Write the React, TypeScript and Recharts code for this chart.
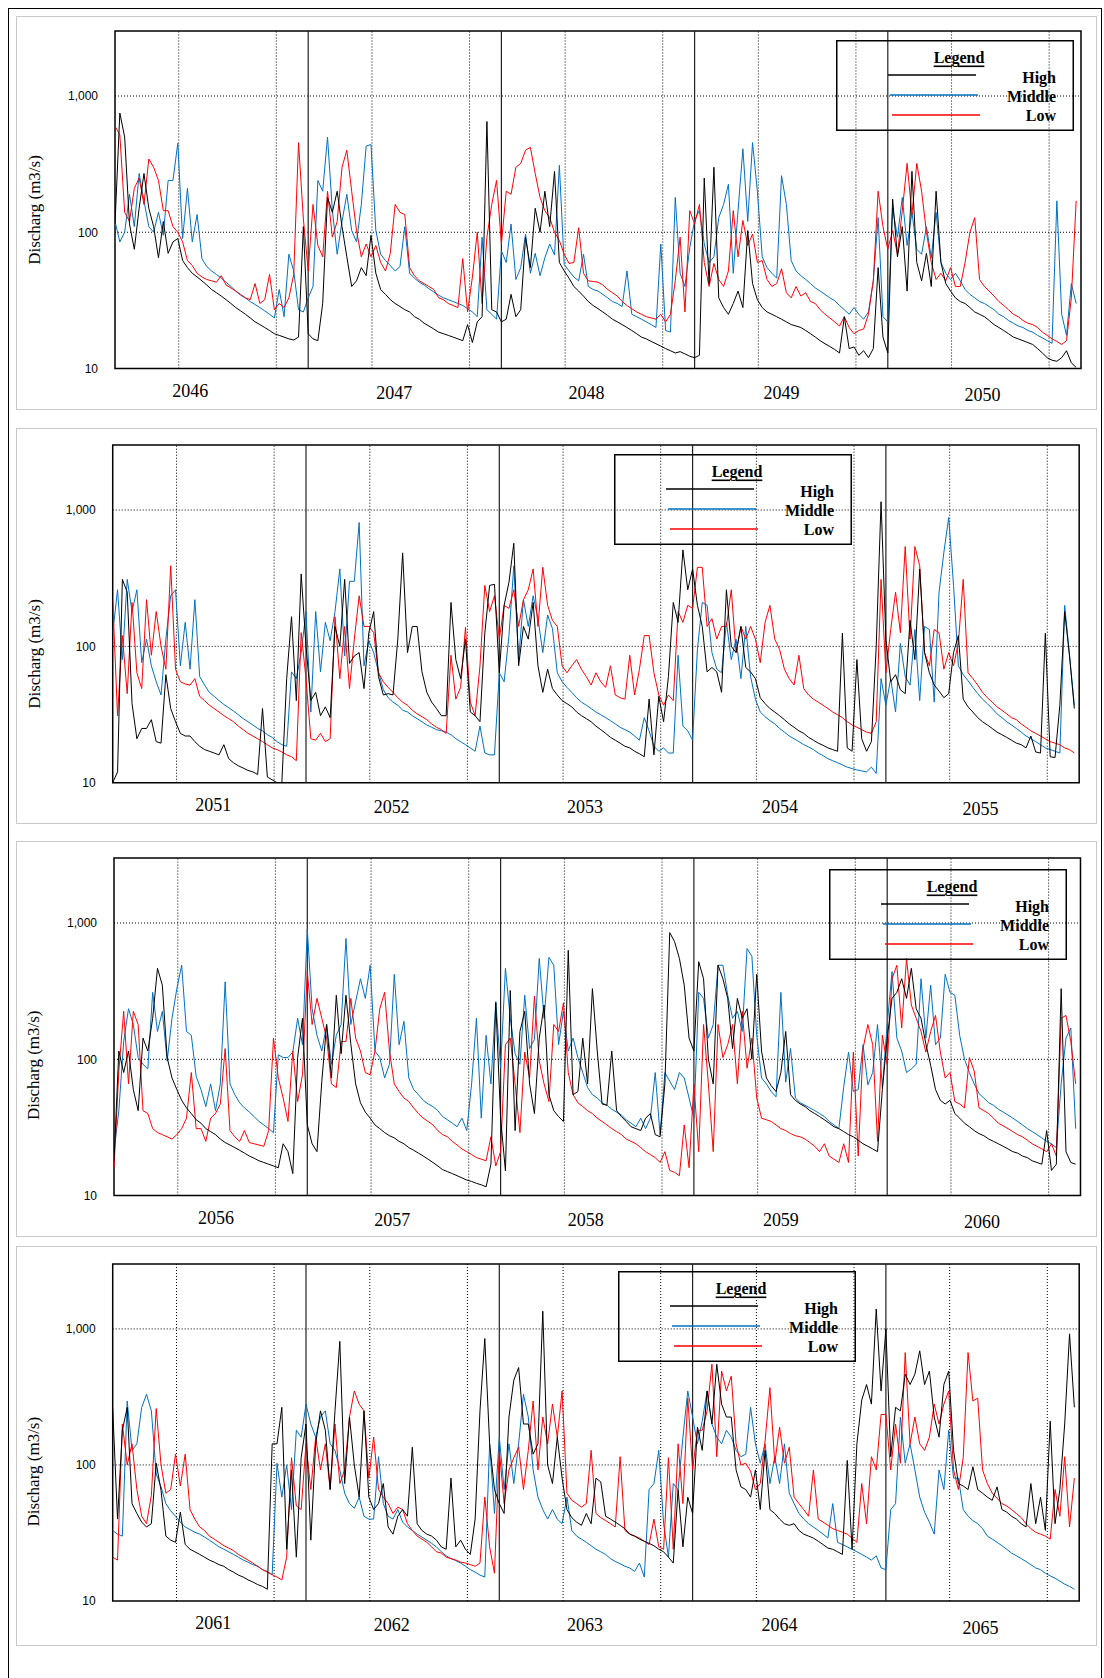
import React from 'react';
import { LineChart, Line, XAxis, YAxis, ReferenceLine, ReferenceArea } from 'recharts';

const SAMPLES_PER_YEAR = 40;
const YEAR_COUNT = 5;

const p1Years = ['2046', '2047', '2048', '2049', '2050'];
const p2Years = ['2051', '2052', '2053', '2054', '2055'];
const p3Years = ['2056', '2057', '2058', '2059', '2060'];
const p4Years = ['2061', '2062', '2063', '2064', '2065'];

const p1High = [
  115, 750, 500, 115, 75, 150, 270, 150, 110, 65, 120, 70, 85, 90, 62, 55, 50, 47, 44, 41,
  38, 36, 34, 32, 30, 28, 26.5, 25, 23.5, 22, 21, 20, 19, 18, 17.5, 17, 16.5, 16.2, 17, 110,
  18, 16.5, 16, 30, 180, 140, 200, 110, 66, 40, 44, 55, 48, 95, 50, 38, 35, 32, 30, 28.5,
  27, 26, 24, 23, 21.5, 20.5, 19.5, 18.5, 18, 17.5, 17, 16.5, 16, 21, 15.5, 22, 24, 650, 27, 26,
  22, 23, 35, 24, 27, 92, 55, 150, 100, 200, 110, 280, 60, 52, 46, 40, 37, 34, 31, 29,
  27.5, 26, 24.5, 23, 22, 21, 20, 19, 18, 17, 16.5, 15.8, 15.2, 14.6, 14, 13.5, 13, 13.3, 12.8, 12.3,
  12, 12.5, 250, 42, 300, 33, 28, 25, 30, 37, 28, 103, 42, 32, 28, 26, 25, 24, 23, 22,
  21, 20.5, 20, 19, 18, 17, 16, 15.2, 14.5, 13.8, 13, 24, 14, 14.4, 12.5, 13.5, 12, 14, 55, 17,
  13, 175, 66, 110, 37, 280, 60, 44, 70, 40, 200, 60, 42, 37, 33, 31, 30, 28, 26, 25,
  24, 22.5, 21, 20, 19, 18, 17, 16.5, 16, 15.5, 15, 14, 13, 12, 11.5, 11.3, 12, 13.5, 11, 10.2,
];
const p1Mid = [
  120, 85, 100, 190, 110, 270, 170, 110, 100, 140, 95, 240, 240, 450, 90, 210, 85, 135, 64, 56,
  52, 49, 46, 43, 40, 37, 34.5, 33, 31, 29.5, 28, 26.5, 25, 23.5, 38, 24, 69, 52, 27, 26,
  33, 40, 240, 200, 500, 145, 69, 120, 190, 103, 85, 160, 430, 440, 103, 69, 62, 57, 52, 56,
  110, 50, 46, 43, 41, 38.5, 36.5, 34.5, 33, 32, 31, 30, 29, 27.5, 26, 24, 92, 27, 25, 23,
  73, 60, 115, 45, 55, 97, 50, 70, 48, 65, 82, 68, 310, 58, 52, 47, 44, 69, 40, 38,
  37, 35, 33, 31, 30, 28.5, 52, 25, 24, 23, 22, 21, 20, 82, 19, 18.5, 180, 50, 40, 77,
  122, 145, 82, 60, 66, 128, 160, 225, 50, 145, 410, 120, 455, 200, 66, 55, 50, 46, 260, 160,
  62, 52, 48, 45, 42, 39, 37, 35, 33, 31.5, 29, 27, 25, 28, 25, 23, 26, 44, 128, 24,
  22, 150, 92, 180, 80, 140, 75, 69, 110, 65, 140, 60, 50, 45, 50, 44, 38, 35, 33, 31,
  30, 28.5, 27, 25, 24, 22.5, 21.5, 20.5, 20, 19, 18.5, 17.5, 16.8, 16, 15.3, 170, 25, 17.5, 42, 30,
];
const p1Low = [
  600, 520, 140, 120, 210, 250, 160, 345, 300, 240, 144, 144, 110, 100, 85, 62, 57, 50, 47, 45,
  44, 43, 48, 41, 39, 37, 35, 33, 32, 42, 30, 32, 49, 27, 30, 28, 33, 49, 455, 125,
  52, 160, 80, 66, 200, 92, 120, 300, 400, 200, 103, 66, 82, 66, 80, 60, 52, 70, 160, 140,
  135, 55, 48, 44, 42, 40, 38, 33, 32, 30, 29, 28, 64, 26, 47, 100, 30, 92, 160, 240,
  82, 200, 190, 300, 320, 400, 420, 270, 180, 144, 128, 100, 87, 69, 59, 60, 108, 50, 44, 43.5,
  43, 41, 38, 36, 34, 31, 29, 27.5, 26, 25, 24, 23.5, 23, 25, 22, 25, 44, 92, 26, 144,
  115, 160, 60, 40, 59, 45, 40, 52, 144, 66, 122, 80, 97, 60, 62, 45, 40, 42, 54, 36,
  33, 40, 34, 36, 31, 30, 27, 25, 23.5, 22, 20.5, 24, 20, 18, 19, 19.5, 25, 44, 200, 110,
  75, 103, 69, 144, 320, 135, 320, 200, 100, 60, 45, 50, 44, 55, 40, 40, 60, 100, 128, 45,
  40, 37, 34, 31, 29, 27, 25, 24, 22.5, 21.5, 21, 20, 18.5, 17.5, 16.5, 15.8, 15, 16, 33, 170,
];

const p2High = [
  10, 12, 310, 250, 38, 21, 25, 25, 29, 20, 19.5, 62, 35, 28, 23, 22, 22, 20, 18.5, 17.5,
  17, 16.5, 16, 19, 15, 14, 13.3, 12.8, 12.3, 12, 11.5, 35, 11, 10.5, 10, 10, 58, 165, 40, 340,
  100, 40, 46, 31, 36, 30, 140, 100, 310, 75, 85, 90, 49, 126, 180, 60, 44, 45, 44, 113,
  485, 90, 140, 140, 65, 46, 39, 35, 31, 31, 210, 80, 58, 113, 33, 31, 28, 125, 280, 285,
  64, 200, 295, 570, 72, 140, 113, 210, 72, 46, 68, 49, 44, 40, 38, 36, 33, 31, 29.5, 28,
  26, 24.5, 23, 21.5, 20.5, 19.5, 18.5, 18, 17, 16.3, 15.5, 41, 16, 43, 28, 60, 210, 150, 510, 260,
  370, 200, 140, 65, 70, 65, 46, 260, 100, 90, 140, 70, 65, 58, 42, 38, 35, 33, 31, 29,
  27, 25.5, 24, 23, 21.5, 20.5, 19.5, 18.8, 18, 17.5, 17, 125, 18, 17, 80, 21, 17, 20, 100, 1150,
  113, 55, 62, 48, 45, 155, 80, 370, 90, 64, 52, 47, 42, 45, 90, 120, 41, 36, 33, 30,
  28, 26.5, 25, 23.5, 22.5, 21.5, 20.5, 19.5, 19, 18, 22, 16.8, 16.5, 125, 15.5, 15.3, 37, 180, 85, 35,
];
const p2Mid = [
  125, 260, 80, 310, 180, 260, 76, 113, 72, 55, 44, 113, 235, 260, 72, 150, 68, 220, 60, 52,
  46, 43, 40, 37.5, 35.5, 33.5, 31.5, 29.5, 28, 26.5, 25, 24, 22.5, 21.5, 20, 19, 18.5, 65, 58, 90,
  180, 33, 180, 65, 150, 110, 180, 370, 85, 300, 300, 810, 72, 110, 90, 65, 48, 42, 39, 37,
  34, 33, 31, 29.5, 28, 26.5, 25.5, 24.5, 24, 23.5, 22.5, 21, 20, 19, 18, 17, 26, 16.5, 16, 16,
  64, 55, 120, 390, 80, 220, 140, 235, 160, 90, 170, 135, 64, 55, 50, 46, 42, 39, 37, 35,
  33, 31.5, 30, 28.5, 27, 25.5, 24.5, 23.5, 22, 20.5, 30, 24, 18.5, 17, 18, 16.5, 16.5, 86, 26, 24,
  20.5, 95, 210, 200, 90, 68, 64, 150, 80, 113, 58, 140, 60, 41, 33, 30.5, 28.5, 27, 25, 23.5,
  22, 21, 20, 19, 18.3, 17.5, 16.5, 15.8, 15, 14.5, 14, 13.5, 13, 12.7, 12.4, 12.2, 12, 13, 11.7, 58,
  37, 58, 33, 105, 60, 52, 133, 40, 140, 133, 39, 250, 490, 880, 280, 72, 62, 56, 50, 45,
  41, 38, 35, 32, 30, 28, 26.5, 25, 23.5, 22, 21, 20, 19, 18, 17.5, 17, 16.5, 200, 86, 37,
];
const p2Low = [
  220, 31, 120, 45, 210, 64, 49, 220, 86, 180, 100, 68, 390, 68, 55, 53, 52, 58, 43, 40,
  37, 35, 33, 31, 29.5, 28, 26, 24.5, 23, 22, 21, 20, 19, 18, 17.5, 16.8, 16, 15.5, 14.5, 126,
  58, 21, 20.5, 23, 20, 21, 165, 58, 140, 49, 113, 235, 140, 140, 126, 64, 55, 50, 46, 42,
  39, 37, 34, 32, 30.5, 29, 27, 25.5, 24.5, 23, 86, 41, 50, 138, 39, 31, 72, 280, 180, 235,
  113, 200, 190, 260, 140, 220, 260, 370, 140, 380, 200, 155, 140, 72, 64, 72, 80, 68, 60, 52,
  64, 55, 50, 72, 44, 42, 41, 86, 44, 68, 120, 120, 64, 44, 37, 44, 40, 180, 150, 200,
  190, 380, 380, 140, 160, 113, 140, 140, 260, 90, 140, 113, 140, 113, 76, 150, 200, 113, 95, 68,
  58, 52, 86, 49, 44, 41, 39, 37, 35, 33, 31.5, 30, 28, 26.5, 25.5, 24.5, 23.5, 23, 28, 310,
  64, 133, 250, 126, 540, 113, 540, 390, 90, 72, 133, 126, 68, 90, 72, 106, 310, 64, 58, 52,
  46, 42, 39, 36, 34, 32, 30, 29, 27, 25.5, 24, 23, 22, 21, 20, 19.5, 19, 18, 17.5, 16.5,
];

const p3High = [
  18, 115, 80, 115, 60, 42, 143, 115, 200, 465, 350, 103, 73, 60, 50, 44, 40, 36, 34, 31,
  29.5, 28, 26, 24.5, 23.5, 22.5, 21.5, 20.5, 19.5, 18.8, 18, 17.5, 17, 16.5, 16, 24, 21, 14.5, 103, 200,
  33, 24, 21, 69, 180, 73, 295, 110, 295, 130, 66, 48, 41, 37, 33, 31, 29, 27.5, 26.5, 25,
  24, 22.5, 21.5, 20.5, 19.5, 18.5, 17.5, 16.5, 15.5, 15, 14.5, 14, 13.5, 13, 12.7, 12.3, 12, 11.6, 17, 260,
  37, 15.2, 320, 30, 160, 225, 66, 40, 143, 250, 55, 42, 38, 35, 630, 55, 58, 143, 66, 330,
  115, 47, 46, 115, 42, 38, 35, 32, 31, 30, 37, 40, 28, 27, 66, 850, 730, 550, 350, 143,
  115, 520, 390, 100, 66, 490, 390, 280, 120, 280, 200, 235, 100, 420, 115, 73, 64, 58, 80, 160,
  55, 50, 47, 45, 42, 40, 38, 36, 34, 32, 31, 29.5, 28, 27, 25.5, 24, 23, 22, 21, 60,
  143, 280, 310, 390, 280, 465, 235, 200, 130, 90, 60, 50, 47, 50, 40, 37, 34, 32, 30, 28.5,
  27.5, 26, 25, 24, 23, 22, 21, 20.5, 19.5, 19, 18, 17.5, 17, 30, 15.3, 17, 330, 21, 17.5, 17,
];
const p3Mid = [
  21, 42, 135, 235, 180, 103, 92, 85, 310, 160, 225, 97, 200, 330, 490, 160, 150, 75, 60, 45,
  66, 42, 66, 370, 66, 55, 48, 44, 41, 38, 35, 33, 31, 29, 108, 103, 103, 113, 200, 128,
  900, 235, 150, 115, 180, 92, 150, 180, 770, 180, 265, 390, 280, 490, 115, 103, 73, 92, 420, 128,
  190, 73, 60, 55, 50, 47, 45, 42, 38, 36, 34, 32, 37, 30, 66, 200, 37, 150, 66, 265,
  86, 465, 200, 110, 92, 295, 120, 140, 550, 200, 560, 490, 128, 225, 115, 143, 103, 80, 62, 55,
  52, 48, 46, 43, 41, 39, 36, 34, 32, 37, 31, 37, 80, 28, 80, 69, 60, 80, 73, 52,
  37, 310, 280, 143, 180, 490, 490, 295, 200, 225, 160, 650, 570, 150, 73, 66, 58, 53, 310, 68,
  120, 52, 48, 46, 44, 42, 40, 38, 35, 33, 31, 63, 113, 58, 60, 128, 65, 80, 180, 62,
  180, 440, 143, 115, 80, 85, 92, 390, 143, 350, 128, 143, 420, 310, 295, 150, 100, 80, 66, 56,
  52, 48, 46, 43, 41, 39, 37, 35, 33, 31, 29.5, 28, 26.5, 25, 24, 22.5, 66, 143, 170, 31,
];
const p3Low = [
  16, 82, 225, 66, 225, 180, 42, 40, 31, 29, 28, 27, 26, 28, 31, 37, 80, 31, 31, 25,
  37, 40, 47, 120, 30, 27, 25, 30, 24.5, 24, 23.5, 23, 30, 143, 73, 52, 35, 115, 49, 77,
  440, 180, 280, 200, 143, 66, 62, 135, 135, 280, 143, 115, 80, 77, 115, 235, 310, 115, 66, 58,
  52, 49, 44, 40, 37, 35, 33, 30, 28, 27, 25, 23.5, 22, 21, 20, 19, 18.5, 18, 27, 16.5,
  21, 128, 143, 66, 29, 113, 73, 290, 97, 66, 49, 180, 160, 260, 80, 55, 48, 45, 42, 40,
  37, 35, 33, 31, 29.5, 28, 26, 25, 24, 22.5, 21, 20, 19, 17.5, 21, 15.3, 14.8, 14, 33, 16,
  66, 21, 180, 66, 21, 180, 103, 128, 180, 66, 225, 86, 143, 52, 37, 36, 35, 33, 31, 30,
  28.5, 27.5, 27, 26, 24.5, 23, 21, 24, 19.5, 18.5, 17.5, 24, 17.5, 113, 19.5, 120, 180, 128, 25, 150,
  92, 390, 490, 170, 550, 250, 200, 160, 113, 160, 210, 113, 73, 80, 49, 47, 44, 103, 82, 44,
  42, 40, 37, 34, 32.5, 31, 29.5, 28, 27, 25.5, 24, 23, 22, 21, 24, 19.5, 200, 210, 135, 66,
];

const p4High = [
  260, 40, 180, 265, 52, 44, 38, 35, 37, 103, 65, 30, 28, 27, 45, 26, 24, 23, 22, 21,
  20, 19.3, 18.5, 18, 17, 16.3, 15.5, 15, 14.3, 13.8, 13.2, 12.8, 12.2, 143, 143, 265, 24, 92, 21, 113,
  200, 28, 143, 250, 180, 66, 250, 810, 73, 225, 100, 58, 250, 58, 47, 52, 73, 35, 31, 42,
  47, 42, 135, 37, 33, 31, 30, 28, 25, 24, 80, 25, 28, 24, 22, 40, 250, 850, 143, 66,
  52, 44, 225, 420, 520, 200, 200, 120, 143, 1350, 100, 73, 160, 80, 47, 41, 38, 36, 44, 37,
  80, 75, 42, 40, 38, 36, 34, 31, 30, 28.5, 27.5, 26.5, 25.5, 24, 23, 21, 19, 66, 25, 58,
  44, 190, 128, 350, 200, 550, 280, 225, 225, 92, 69, 66, 58, 92, 47, 128, 47, 44, 40, 37,
  36, 37, 33, 31, 30, 29, 27.5, 26, 24.5, 24, 23, 22, 108, 24, 143, 300, 390, 280, 1400, 350,
  1000, 115, 265, 250, 465, 390, 465, 690, 390, 490, 225, 160, 390, 490, 128, 73, 70, 66, 97, 66,
  62, 58, 55, 69, 47, 45, 42, 40, 37, 35, 73, 37, 58, 33, 210, 37, 66, 200, 920, 265,
];
const p4Mid = [
  33, 31, 30, 295, 128, 143, 265, 330, 250, 86, 69, 52, 46, 42, 38, 35, 33.5, 32, 31, 29.5,
  28, 26.5, 25, 24, 23, 22, 21, 20, 19.3, 18.5, 18, 17, 16.5, 15.6, 103, 58, 100, 47, 180, 160,
  280, 200, 160, 225, 250, 143, 128, 92, 62, 52, 48, 58, 42, 40, 40, 115, 52, 42, 40, 47,
  38, 35, 33, 31, 29.5, 28, 26.5, 25, 23, 21.5, 20.5, 19.8, 19, 18, 17, 16.3, 15.5, 15, 143, 44,
  160, 66, 143, 73, 143, 330, 225, 92, 58, 47, 40, 47, 40, 37, 58, 33, 30, 28.5, 27, 25.5,
  24, 23, 22, 20.5, 19.5, 18.8, 18, 17.5, 16.5, 19, 15, 66, 73, 128, 37, 21, 73, 66, 160, 350,
  225, 143, 210, 350, 200, 160, 143, 180, 160, 128, 115, 120, 265, 143, 103, 143, 73, 115, 73, 143,
  62, 52, 44, 40, 37, 35, 33, 31, 29, 52, 27, 26, 25, 24, 23, 22, 21, 20, 21.5, 17.5,
  17, 47, 52, 225, 103, 143, 92, 58, 45, 38, 31, 92, 66, 180, 80, 80, 47, 42, 39, 37,
  34, 30, 28.5, 27, 25.5, 24, 22.5, 21.5, 20.5, 19.5, 18.5, 17.5, 17, 16, 15.3, 14.7, 14, 13.3, 12.8, 12.2,
];
const p4Low = [
  21, 20, 200, 100, 143, 66, 42, 37, 60, 260, 100, 62, 66, 120, 70, 120, 47, 40, 35, 33,
  30, 28.5, 27, 25.5, 24.5, 23.5, 22, 21, 20, 19, 18, 17, 16.3, 15.6, 15, 14.3, 21, 113, 50, 47,
  143, 66, 160, 92, 143, 66, 200, 73, 92, 225, 350, 280, 250, 80, 160, 66, 58, 52, 44, 49,
  47, 37, 33, 30, 28.5, 27, 25, 23, 22.5, 21, 20.5, 20, 19.3, 19, 18.5, 18, 19, 58, 25, 16,
  128, 52, 92, 113, 135, 66, 128, 295, 92, 225, 143, 280, 160, 350, 62, 55, 52, 49, 52, 128,
  44, 41, 39, 37, 35, 115, 33, 31, 30, 29, 27.5, 26, 40, 25, 24, 113, 24, 143, 52, 310,
  92, 180, 180, 250, 550, 115, 490, 350, 450, 143, 100, 103, 90, 66, 73, 150, 370, 103, 190, 103,
  135, 58, 52, 47, 42, 92, 40, 38, 36, 34, 33, 32, 31, 29, 27, 73, 37, 115, 92, 235,
  235, 92, 200, 103, 670, 143, 225, 143, 128, 160, 280, 200, 280, 350, 92, 66, 113, 670, 295, 310,
  92, 73, 62, 57, 52, 50, 47, 44, 41, 37, 34, 32, 31, 30, 28.5, 66, 42, 115, 35, 80,
];

const SERIES = [
  { key: 'mid', name: 'Middle', color: '#0070C0' },
  { key: 'low', name: 'Low', color: '#FF0000' },
  { key: 'high', name: 'High', color: '#000000' },
];
const LEGEND_ORDER = ['high', 'mid', 'low'];

const SERIF = '"Liberation Serif", "Times New Roman", serif';
const SANS = '"Liberation Sans", Arial, sans-serif';

const buildRows = (high: number[], mid: number[], low: number[]) =>
  high.map((h, i) => ({ t: i / SAMPLES_PER_YEAR, high: h, mid: mid[i], low: low[i] }));

const yearIdx = Array.from({ length: YEAR_COUNT }, (_, k) => k);
const dottedX = yearIdx.flatMap((k) => [k + 0.33, k + 0.835]);
const solidX = yearIdx.slice(1);

type Panel = {
  years: string[];
  high: number[];
  mid: number[];
  low: number[];
  plotLeft: number;
  plotTop: number;
  plotRight: number;
  plotBottom: number;
  boxTop: number;
  boxBottom: number;
  legendLeft: number;
  legendTop: number;
  yLabelY: number;
  labelPos: number[];
};

const panels: Panel[] = [
  {
    years: p1Years, high: p1High, mid: p1Mid, low: p1Low,
    plotLeft: 115, plotTop: 31, plotRight: 1081, plotBottom: 368.5,
    boxTop: 16, boxBottom: 410, legendLeft: 836, legendTop: 40, yLabelY: 210,
    labelPos: [0.39, 0.445, 0.44, 0.45, 0.49],
  },
  {
    years: p2Years, high: p2High, mid: p2Mid, low: p2Low,
    plotLeft: 112.7, plotTop: 445, plotRight: 1079.2, plotBottom: 782.7,
    boxTop: 428, boxBottom: 824, legendLeft: 614, legendTop: 454, yLabelY: 654,
    labelPos: [0.52, 0.443, 0.443, 0.452, 0.49],
  },
  {
    years: p3Years, high: p3High, mid: p3Mid, low: p3Low,
    plotLeft: 114, plotTop: 857.7, plotRight: 1080.5, plotBottom: 1195.3,
    boxTop: 841, boxBottom: 1237, legendLeft: 829, legendTop: 869, yLabelY: 1065,
    labelPos: [0.528, 0.44, 0.44, 0.45, 0.49],
  },
  {
    years: p4Years, high: p4High, mid: p4Mid, low: p4Low,
    plotLeft: 112.7, plotTop: 1264.3, plotRight: 1079.2, plotBottom: 1601.3,
    boxTop: 1246, boxBottom: 1646, legendLeft: 618, legendTop: 1271, yLabelY: 1472,
    labelPos: [0.52, 0.443, 0.443, 0.45, 0.49],
  },
];

const LegendBox = ({ left, top }: { left: number; top: number }) => (
  <svg
    width={238}
    height={91}
    style={{ position: 'absolute', left, top, overflow: 'visible' }}
  >
    <rect x={0.75} y={0.75} width={236.5} height={89.5} fill="none" stroke="#000" strokeWidth={1.5} />
    <text
      x={123}
      y={17}
      textAnchor="middle"
      dominantBaseline="central"
      style={{ fontFamily: SERIF, fontWeight: 'bold', fontSize: 16, textDecoration: 'underline' }}
    >
      Legend
    </text>
    {LEGEND_ORDER.map((k, j) => {
      const s = SERIES.find((x) => x.key === k)!;
      return (
        <g key={k}>
          <line x1={52 + j * 2} x2={140 + j * 2} y1={35 + j * 20} y2={35 + j * 20} stroke={s.color} strokeWidth={1.5} />
          <text
            x={220}
            y={37 + j * 19.3}
            textAnchor="end"
            dominantBaseline="central"
            style={{ fontFamily: SERIF, fontWeight: 'bold', fontSize: 16 }}
          >
            {s.name}
          </text>
        </g>
      );
    })}
  </svg>
);

const HydroPanel = ({ p }: { p: Panel }) => {
  const rows = buildRows(p.high, p.mid, p.low);
  const padTop = 10;
  const axisH = 40;
  const height = p.plotBottom - p.plotTop + padTop + axisH;
  const chartTop = p.plotTop - padTop;
  const ticks = p.labelPos.map((o, k) => k + o);

  const YearTick = (props: any) => {
    const { x, y, index } = props;
    const extra = index === 0 ? 0 : index === YEAR_COUNT - 1 ? 4.5 : 2;
    return (
      <text
        x={x}
        y={y + 20 + extra}
        textAnchor="middle"
        dominantBaseline="central"
        style={{ fontFamily: SERIF, fontSize: 18, fill: '#000' }}
      >
        {p.years[index]}
      </text>
    );
  };

  const YLabel = () => {
    const cy = p.yLabelY - chartTop;
    return (
      <text
        x={34}
        y={cy}
        transform={`rotate(-90 34 ${cy})`}
        textAnchor="middle"
        dominantBaseline="central"
        style={{ fontFamily: SERIF, fontSize: 17, fill: '#000' }}
      >
        Discharg (m3/s)
      </text>
    );
  };

  return (
    <>
      <div
        style={{
          position: 'absolute',
          left: 16,
          top: p.boxTop,
          width: 1081,
          height: p.boxBottom - p.boxTop,
          border: '1px solid #c8c8c8',
          boxSizing: 'border-box',
        }}
      />
      <div style={{ position: 'absolute', left: 0, top: chartTop }}>
        <LineChart
          width={1104}
          height={height}
          data={rows}
          margin={{ top: padTop, right: 1104 - p.plotRight, bottom: 0, left: 0 }}
        >
          <XAxis
            type="number"
            dataKey="t"
            domain={[0, YEAR_COUNT]}
            ticks={ticks}
            interval={0}
            height={axisH}
            tickSize={0}
            tickLine={false}
            axisLine={false}
            allowDataOverflow
            tick={<YearTick />}
          />
          <YAxis
            type="number"
            scale="log"
            domain={[10, 3000]}
            ticks={[10, 100, 1000]}
            allowDataOverflow
            width={p.plotLeft}
            tickSize={0}
            tickMargin={17}
            tickLine={false}
            axisLine={false}
            tickFormatter={(v: number) => v.toLocaleString('en-US')}
            tick={{ fill: '#000', fontSize: 12, fontFamily: SANS }}
            label={<YLabel />}
          />
          {[100, 1000].map((v) => (
            <ReferenceLine key={`h${v}`} y={v} stroke="#000" strokeWidth={1} strokeDasharray="1 2" />
          ))}
          {dottedX.map((v) => (
            <ReferenceLine key={`d${v}`} x={v} stroke="#000" strokeWidth={1} strokeDasharray="1 2" />
          ))}
          {solidX.map((v) => (
            <ReferenceLine key={`s${v}`} x={v} stroke="#222" strokeWidth={1.2} />
          ))}
          {SERIES.map((s) => (
            <Line
              key={s.key}
              dataKey={s.key}
              name={s.name}
              stroke={s.color}
              strokeWidth={1}
              dot={false}
              activeDot={false}
              type="linear"
              isAnimationActive={false}
            />
          ))}
          <ReferenceArea
            x1={0}
            x2={YEAR_COUNT}
            y1={10}
            y2={3000}
            fill="none"
            stroke="#000"
            strokeWidth={1.5}
          />
        </LineChart>
      </div>
      <LegendBox left={p.legendLeft} top={p.legendTop} />
    </>
  );
};

export default function App() {
  return (
    <div
      style={{
        position: 'absolute',
        left: 0,
        top: 0,
        width: 1104,
        height: 1678,
        background: '#fff',
        overflow: 'hidden',
        fontFamily: SERIF,
      }}
    >
      <div
        style={{
          position: 'absolute',
          left: 8,
          top: 8,
          width: 1094,
          height: 1700,
          border: '1px solid #000',
          boxSizing: 'border-box',
        }}
      />
      {panels.map((p, i) => (
        <HydroPanel key={i} p={p} />
      ))}
    </div>
  );
}
